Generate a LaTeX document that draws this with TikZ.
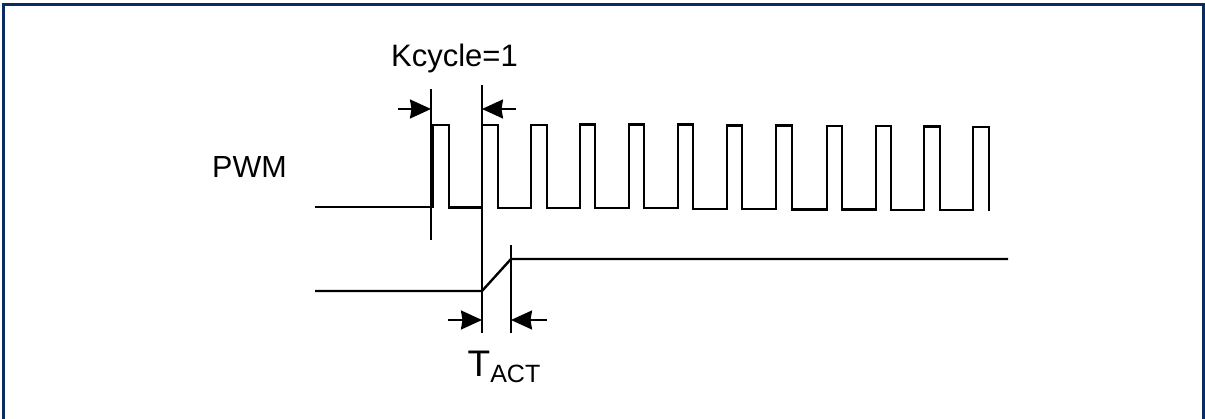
\documentclass[tikz,border=0pt]{standalone}
\usepackage{fontspec}
\setmainfont{Liberation Sans}
\usetikzlibrary{arrows.meta}
\definecolor{framecol}{RGB}{8,44,96}
\tikzset{
  wave/.style={line width=2.4pt, line join=miter},
  marker/.style={line width=2.4pt},
  dimarrow/.style={line width=2pt, -{Stealth[length=21pt,width=19pt,inset=1.5pt]}},
  lbl/.style={inner sep=0pt, anchor=base},
}
\begin{document}
\begin{tikzpicture}[x=1pt,y=-1pt]
\useasboundingbox (0,0) rectangle (1205,419);
\fill[white] (0,0) rectangle (1205,419);
% frame
\draw[framecol, line width=3pt] (3.5,425) -- (3.5,4.5) -- (1203.5,4.5) -- (1203.5,425);

% labels
\node[lbl] (pwm) at (249.5,178) {\fontsize{30.5}{36}\selectfont PWM};
\node[lbl] (kc) at (454.5,67) {\fontsize{31}{36}\selectfont Kcycle=1};
\node[lbl] (tact) at (504,377) {\fontsize{37}{40}\selectfont T\raisebox{-6pt}{\fontsize{25}{28}\selectfont ACT}};

% PWM waveform
\draw[wave] (315,207) -- (433,207) -- (433,125) -- (449,125) -- (449,207.5) -- (482,207.5)
 -- (482,125) -- (498,125) -- (498,208) -- (531,208)
 -- (531,125) -- (547,125) -- (547,208) -- (580,208)
 -- (580,124.5) -- (595,124.5) -- (595,208) -- (629,208)
 -- (629,124.5) -- (644,124.5) -- (644,208) -- (678,208)
 -- (678,124.5) -- (693,124.5) -- (693,209) -- (727,209)
 -- (727,125.5) -- (742,125.5) -- (742,209) -- (776,209)
 -- (776,125.5) -- (792,125.5) -- (792,209.5) -- (827,209.5)
 -- (827,126) -- (842,126) -- (842,209.5) -- (876,209.5)
 -- (876,126) -- (891,126) -- (891,210) -- (924,210)
 -- (924,126.5) -- (940,126.5) -- (940,210) -- (973,210)
 -- (973,127) -- (989,127) -- (989,211);

% output waveform
\draw[wave] (315,291) -- (482,291) -- (511,259) -- (1008,259);

% marker lines
\coordinate (m1t) at (431,89);  \coordinate (m1b) at (431,240);
\coordinate (m2t) at (482,85);  \coordinate (m2b) at (482,333);
\coordinate (m3t) at (511,245); \coordinate (m3b) at (511,333);
\draw[marker] (m1t) -- (m1b);
\draw[marker] (m2t) -- (m2b);
\draw[marker] (m3t) -- (m3b);

% dimension arrows
\coordinate (a1s) at (398,109); \coordinate (a1e) at (431,109);
\coordinate (a2s) at (516,109); \coordinate (a2e) at (482,109);
\coordinate (a3s) at (448,320); \coordinate (a3e) at (482,320);
\coordinate (a4s) at (547,320); \coordinate (a4e) at (511,320);
\draw[dimarrow] (a1s) -- (a1e);
\draw[dimarrow] (a2s) -- (a2e);
\draw[dimarrow] (a3s) -- (a3e);
\draw[dimarrow] (a4s) -- (a4e);
\end{tikzpicture}
\end{document}
